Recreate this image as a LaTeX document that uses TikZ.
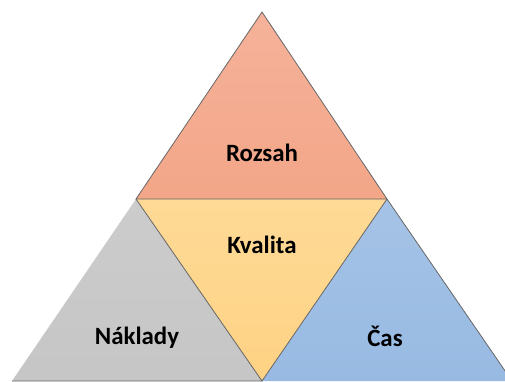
\documentclass[tikz,border=0pt]{standalone}
\usepackage{fontspec}
\setmainfont{Carlito}
\begin{document}
\begin{tikzpicture}[x=1bp,y=-1bp,
  edge/.style={draw=black!60, line width=0.8bp, line join=miter},
  label/.style={font=\fontsize{25}{29}\selectfont\bfseries, text=black, inner sep=0pt}]
  \useasboundingbox (0,0) rectangle (505,381);
  % corner points of the four triangles
  \coordinate (apex) at (262,12);
  \coordinate (tl) at (136,199);
  \coordinate (tr) at (387,199);
  \coordinate (bm) at (262,381);
  \coordinate (bl) at (12,381);
  \coordinate (br) at (512,381);
  \begin{scope}
    \clip (0,0) rectangle (505,381);
    % bottom left: costs
    \shade[top color=gray!40, bottom color=gray!45] (tl) -- (bm) -- (bl) -- cycle;
    % bottom right: time
    \shade[top color={rgb,255:red,165;green,195;blue,230}, bottom color={rgb,255:red,152;green,186;blue,226}] (tr) -- (br) -- (bm) -- cycle;
    % centre: quality
    \shade[top color={rgb,255:red,254;green,218;blue,150}, bottom color={rgb,255:red,254;green,210;blue,132}] (tl) -- (tr) -- (bm) -- cycle;
    % top: scope
    \shade[top color={rgb,255:red,245;green,178;blue,154}, bottom color={rgb,255:red,243;green,166;blue,136}] (apex) -- (tr) -- (tl) -- cycle;
    \draw[edge] (tl) -- (bm) -- (bl);
    \draw[edge] (tr) -- (br);
    \draw[edge] (tr) -- (bm);
    \draw[edge] (apex) -- (tr) -- (tl) -- cycle;
  \end{scope}
  \node[label] (rozsah) at (262,153) {Rozsah};
  \node[label] (kvalita) at (262,245) {Kvalita};
  \node[label] (naklady) at (137,338) {Náklady};
  \node[label] (cas) at (385,336) {Čas};
\end{tikzpicture}
\end{document}
